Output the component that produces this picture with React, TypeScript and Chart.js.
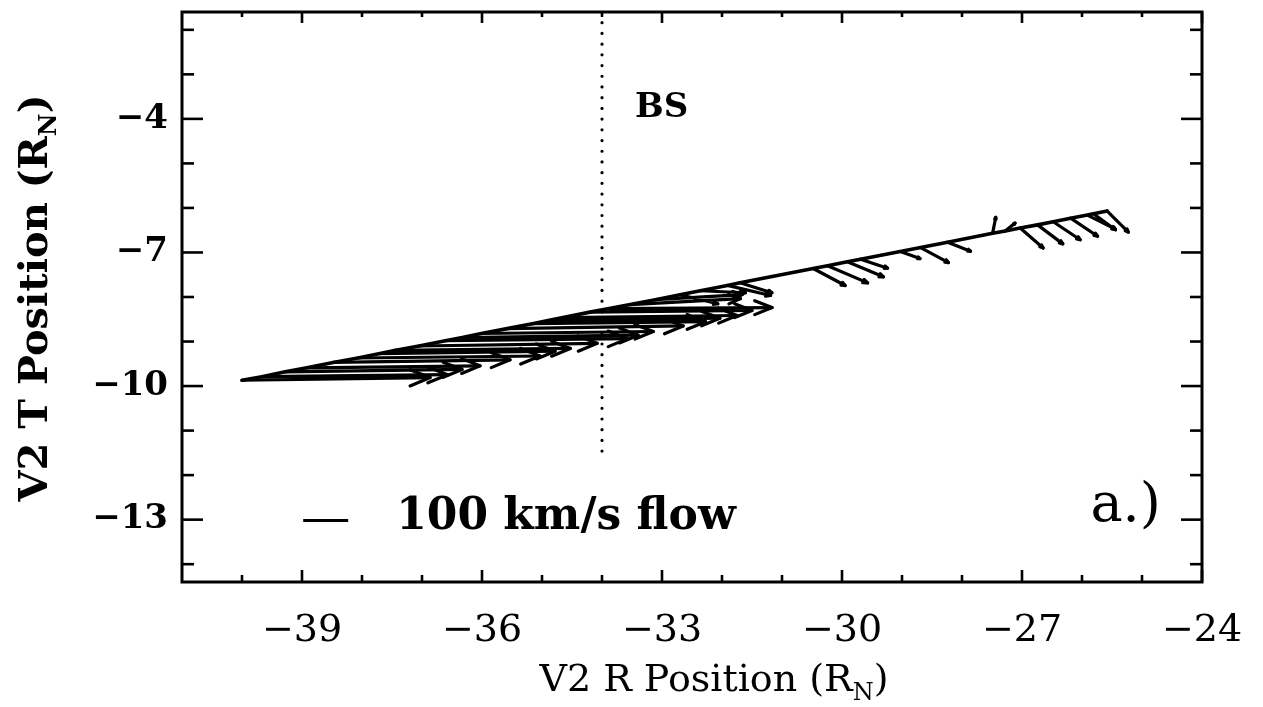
import React, { useEffect, useRef } from "react";
import { Chart, registerables } from "chart.js";

Chart.register(...registerables);

// ---- axes ----
const R_RANGE = [-41, -24];
const T_RANGE = [-14.4, -1.6];
const R_MAJOR_TICKS = [-39, -36, -33, -30, -27, -24];
const R_MINOR_TICKS = [-40, -38, -37, -35, -34, -32, -31, -29, -28, -26, -25];
const T_MAJOR_TICKS = [-4, -7, -10, -13];
const T_MINOR_TICKS = [-2, -3, -5, -6, -8, -9, -11, -12, -14];

// ---- spacecraft positions where the flow vectors are anchored (R_N) ----
const POS_R = [
  -40.0, -39.67, -39.28, -38.92, -38.48, -38.07, -37.7, -37.46, -37.05, -36.61,
  -36.33, -36.01, -35.58, -35.16, -34.9, -34.65, -34.2, -33.88, -33.53, -33.11,
  -32.7, -32.36, -31.91, -31.7, -30.48, -30.24, -29.91, -29.69, -29.03, -28.69,
  -28.24, -27.49, -27.28, -27.03, -26.74, -26.48, -26.19, -25.91, -25.81, -25.58,
];
const POS_T = [
  -9.87, -9.79, -9.68, -9.59, -9.47, -9.37, -9.27, -9.2, -9.1, -8.98,
  -8.91, -8.82, -8.71, -8.6, -8.53, -8.46, -8.34, -8.26, -8.17, -8.06,
  -7.95, -7.86, -7.74, -7.68, -7.36, -7.3, -7.21, -7.15, -6.98, -6.89,
  -6.77, -6.57, -6.52, -6.45, -6.38, -6.31, -6.23, -6.16, -6.13, -6.07,
];
// ---- flow velocity components (km/s) ----
const FLOW_VR = [
  418, 413, 393, 385, 393, 405, 389, 391, 396, 405,
  391, 382, 391, 385, 382, 387, 360, 362, 245, 193,
  84, 100, 96, 71, 71, 89, 80, 60, 44, 62,
  51, 7, 22, 51, 56, 60, 60, 62, 49, 47,
];
const FLOW_VT = [
  8, 6, 7, 6, 8, 6, 7, 6, 8, 6,
  7, 6, 8, 6, 7, 6, 5, 3, 18, 15,
  -27, -6, -30, -30, -51, -51, -45, -27, -21, -45,
  -27, 48, 24, -60, -57, -54, -54, -42, -48, -63,
];
const RN_PER_KMS = 0.0075; // plot length of 1 km/s in R_N

// ---- bow shock marker ----
const BS_R = -34.0;
const BS_T = [-1.6, -11.5];

// ---- reference vector ----
const REF_KMS = 100;
const REF_R = -38.98;
const REF_T = -13.02;

const fmt = (v: number) => (v < 0 ? "\u2212" : "") + Math.abs(v);

function drawSubText(
  ctx: CanvasRenderingContext2D,
  main: string,
  sub: string,
  tail: string,
  font: string,
  subFont: string,
  drop: number,
  cx: number,
  y: number
) {
  ctx.font = font;
  const w1 = ctx.measureText(main).width;
  const w3 = ctx.measureText(tail).width;
  ctx.font = subFont;
  const w2 = ctx.measureText(sub).width;
  let x = cx - (w1 + w2 + w3) / 2;
  ctx.textAlign = "left";
  ctx.textBaseline = "alphabetic";
  ctx.font = font;
  ctx.fillText(main, x, y);
  x += w1;
  ctx.font = subFont;
  ctx.fillText(sub, x, y + drop);
  x += w2;
  ctx.font = font;
  ctx.fillText(tail, x, y);
}

const arrowHeads = {
  id: "arrowHeads",
  afterDatasetsDraw(chart: any) {
    const { ctx, chartArea, scales } = chart;
    const xs = scales.x;
    const ys = scales.y;
    ctx.save();
    ctx.beginPath();
    ctx.rect(chartArea.left, chartArea.top, chartArea.width, chartArea.height);
    ctx.clip();
    ctx.strokeStyle = "#000";
    ctx.lineWidth = 3.2;
    ctx.lineCap = "round";
    ctx.lineJoin = "round";
    for (let i = 0; i < POS_R.length; i++) {
      const x0 = xs.getPixelForValue(POS_R[i]);
      const y0 = ys.getPixelForValue(POS_T[i]);
      const x1 = xs.getPixelForValue(POS_R[i] + FLOW_VR[i] * RN_PER_KMS);
      const y1 = ys.getPixelForValue(POS_T[i] + FLOW_VT[i] * RN_PER_KMS);
      const len = Math.hypot(x1 - x0, y1 - y0);
      const h = len * 0.115;
      const a = Math.atan2(y1 - y0, x1 - x0);
      const s = 0.38;
      ctx.beginPath();
      ctx.moveTo(x1 - h * Math.cos(a - s), y1 - h * Math.sin(a - s));
      ctx.lineTo(x1, y1);
      ctx.lineTo(x1 - h * Math.cos(a + s), y1 - h * Math.sin(a + s));
      ctx.stroke();
    }
    ctx.restore();
  },
};

const frameAndText = {
  id: "frameAndText",
  afterDraw(chart: any) {
    const { ctx, chartArea, scales } = chart;
    const xs = scales.x;
    const ys = scales.y;
    const { left, right, top, bottom } = chartArea;
    ctx.save();
    ctx.strokeStyle = "#000";
    ctx.fillStyle = "#000";
    ctx.lineWidth = 3;
    ctx.lineCap = "butt";
    ctx.strokeRect(left, top, right - left, bottom - top);
    const seg = (x0: number, y0: number, x1: number, y1: number) => {
      ctx.beginPath();
      ctx.moveTo(x0, y0);
      ctx.lineTo(x1, y1);
      ctx.stroke();
    };
    ctx.lineWidth = 2.6;
    R_MAJOR_TICKS.forEach((v) => {
      const p = xs.getPixelForValue(v);
      seg(p, bottom, p, bottom - 12);
      seg(p, top, p, top + 11);
    });
    R_MINOR_TICKS.forEach((v) => {
      const p = xs.getPixelForValue(v);
      seg(p, bottom, p, bottom - 7);
      seg(p, top, p, top + 5);
    });
    T_MAJOR_TICKS.forEach((v) => {
      const p = ys.getPixelForValue(v);
      seg(left, p, left + 21, p);
      seg(right, p, right - 21, p);
    });
    T_MINOR_TICKS.forEach((v) => {
      const p = ys.getPixelForValue(v);
      seg(left, p, left + 12, p);
      seg(right, p, right - 12, p);
    });

    // annotations
    ctx.textAlign = "left";
    ctx.textBaseline = "alphabetic";
    ctx.font = 'bold 34px "DejaVu Serif"';
    ctx.fillText("BS", xs.getPixelForValue(-33.45), ys.getPixelForValue(-3.95));
    ctx.font = 'bold 44px "DejaVu Serif"';
    ctx.fillText("100 km/s flow", xs.getPixelForValue(-37.43), ys.getPixelForValue(-13.22));
    ctx.font = '54px "DejaVu Serif"';
    ctx.fillText("a.)", xs.getPixelForValue(-25.86), ys.getPixelForValue(-13.04));

    // axis titles
    drawSubText(
      ctx,
      "V2 R Position (R",
      "N",
      ")",
      '38px "DejaVu Serif"',
      '24px "DejaVu Serif"',
      9,
      714,
      691
    );
    ctx.save();
    ctx.translate(47, 298);
    ctx.rotate(-Math.PI / 2);
    drawSubText(
      ctx,
      "V2 T Position (R",
      "N",
      ")",
      'bold 40px "DejaVu Serif"',
      'bold 25px "DejaVu Serif"',
      9,
      0,
      0
    );
    ctx.restore();
    ctx.restore();
  },
};

export default function App() {
  const ref = useRef<HTMLCanvasElement>(null);
  useEffect(() => {
    if (!ref.current) return;
    const vectorPts: any[] = [];
    POS_R.forEach((r, i) => {
      vectorPts.push({ x: r, y: POS_T[i] });
      vectorPts.push({
        x: r + FLOW_VR[i] * RN_PER_KMS,
        y: POS_T[i] + FLOW_VT[i] * RN_PER_KMS,
      });
      vectorPts.push({ x: r, y: null });
    });
    const chart = new Chart(ref.current, {
      type: "scatter",
      data: {
        datasets: [
          {
            label: "trajectory",
            data: POS_R.map((r, i) => ({ x: r, y: POS_T[i] })),
            showLine: true,
            borderColor: "#000",
            borderWidth: 3.6,
            pointRadius: 0,
            borderCapStyle: "round",
          },
          {
            label: "flow",
            data: vectorPts,
            showLine: true,
            spanGaps: false,
            borderColor: "#000",
            borderWidth: 3.2,
            pointRadius: 0,
            borderCapStyle: "round",
          },
          {
            label: "BS",
            data: BS_T.map((t) => ({ x: BS_R, y: t })),
            showLine: true,
            borderColor: "#000",
            borderWidth: 3.2,
            borderDash: [0.01, 10.7],
            borderCapStyle: "round",
            pointRadius: 0,
          },
          {
            label: "reference",
            data: [
              { x: REF_R, y: REF_T },
              { x: REF_R + REF_KMS * RN_PER_KMS, y: REF_T },
            ],
            showLine: true,
            borderColor: "#000",
            borderWidth: 3,
            pointRadius: 0,
          },
        ],
      },
      options: {
        animation: false,
        responsive: false,
        devicePixelRatio: 1,
        events: [],
        layout: { padding: { top: 12, right: 61, left: 0, bottom: 0 } },
        plugins: {
          legend: { display: false },
          tooltip: { enabled: false },
          title: { display: false },
        },
        scales: {
          x: {
            type: "linear",
            min: R_RANGE[0],
            max: R_RANGE[1],
            grid: { display: false, drawTicks: false, tickLength: 0 },
            border: { display: false },
            afterBuildTicks: (s: any) => {
              s.ticks = R_MAJOR_TICKS.map((v) => ({ value: v }));
            },
            afterFit: (s: any) => {
              s.height = 125;
              s.paddingLeft = 0;
              s.paddingRight = 0;
            },
            ticks: {
              color: "#000",
              padding: 26,
              maxRotation: 0,
              autoSkip: false,
              font: { family: "DejaVu Serif", size: 38 },
              callback: (v: any) => fmt(Number(v)),
            },
          },
          y: {
            type: "linear",
            min: T_RANGE[0],
            max: T_RANGE[1],
            grid: { display: false, drawTicks: false, tickLength: 0 },
            border: { display: false },
            afterBuildTicks: (s: any) => {
              s.ticks = T_MAJOR_TICKS.map((v) => ({ value: v }));
            },
            afterFit: (s: any) => {
              s.width = 182;
              s.paddingTop = 0;
              s.paddingBottom = 0;
            },
            ticks: {
              color: "#000",
              padding: 14,
              autoSkip: false,
              font: { family: "DejaVu Serif", size: 34, weight: "bold" },
              callback: (v: any) => fmt(Number(v)),
            },
          },
        },
      },
      plugins: [arrowHeads, frameAndText],
    } as any);
    return () => chart.destroy();
  }, []);
  return (
    <div style={{ position: "fixed", left: 0, top: 0, width: 1263, height: 707, background: "#fff" }}>
      <canvas ref={ref} width={1263} height={707} style={{ display: "block" }} />
    </div>
  );
}
